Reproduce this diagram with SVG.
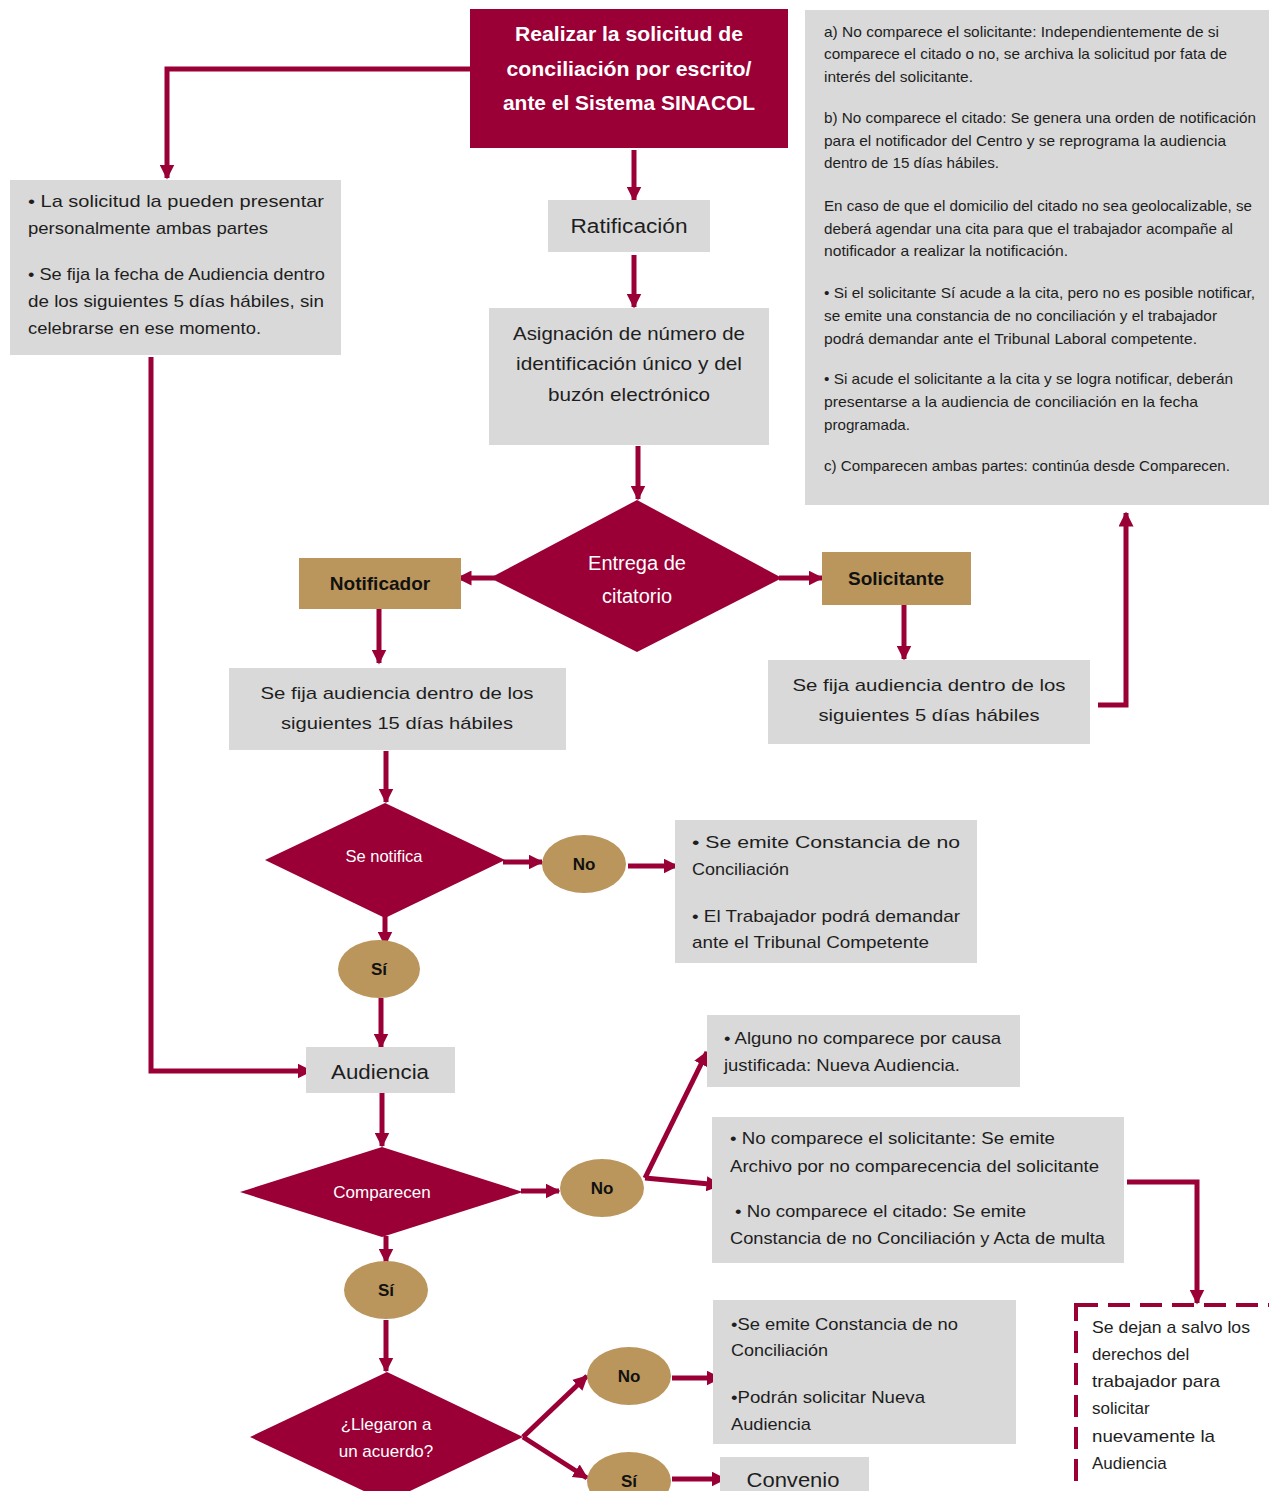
<svg xmlns="http://www.w3.org/2000/svg" width="1269" height="1491" viewBox="0 0 1269 1491">
<style>
.mar{fill:#9a0036}
.tan{fill:#bb965c}
.gr{fill:#d9d9d9}
text{font-family:"Liberation Sans",Arial,sans-serif;fill:#1e1e1e}
.w{fill:#ffffff}
.b{font-weight:bold}
.c{text-anchor:middle}
.s14{font-size:14.5px}
.s16{font-size:16.5px}
.s17{font-size:17px}
.s19{font-size:19px}
.s20{font-size:20px}
.con{fill:none;stroke:#9a0036;stroke-width:5}
</style>
<defs>
<marker id="ah" viewBox="0 0 10 10" refX="9" refY="5" markerWidth="15" markerHeight="15" markerUnits="userSpaceOnUse" orient="auto"><path d="M0,0 L10,5 L0,10 z" fill="#9a0036"/></marker>
</defs>
<rect width="1269" height="1491" fill="#ffffff"/>

<g id="connectors">
<path class="con" d="M470,69 H167 V178" marker-end="url(#ah)"/>
<path class="con" d="M634,150 V200" marker-end="url(#ah)"/>
<path class="con" d="M634,255 V307" marker-end="url(#ah)"/>
<path class="con" d="M638,446 V499" marker-end="url(#ah)"/>
<path class="con" d="M495,578 H458" marker-end="url(#ah)"/>
<path class="con" d="M779,578 H822" marker-end="url(#ah)"/>
<path class="con" d="M379,609 V663" marker-end="url(#ah)"/>
<path class="con" d="M904,605 V659" marker-end="url(#ah)"/>
<path class="con" d="M1098,705 H1126 V513" marker-end="url(#ah)"/>
<path class="con" d="M386,751 V802" marker-end="url(#ah)"/>
<path class="con" d="M503,862 H542" marker-end="url(#ah)"/>
<path class="con" d="M628,866 H677" marker-end="url(#ah)"/>
<path class="con" d="M385,916 V945" marker-end="url(#ah)"/>
<path class="con" d="M381,998 V1047" marker-end="url(#ah)"/>
<path class="con" d="M151,357 V1071 H311" marker-end="url(#ah)"/>
<path class="con" d="M382,1093 V1146" marker-end="url(#ah)"/>
<path class="con" d="M521,1191 H559" marker-end="url(#ah)"/>
<path class="con" d="M645,1178 L707,1052" marker-end="url(#ah)"/>
<path class="con" d="M645,1178 L720,1185" marker-end="url(#ah)"/>
<path class="con" d="M1127,1182 H1197 V1303" marker-end="url(#ah)"/>
<path class="con" d="M386,1236 V1262" marker-end="url(#ah)"/>
<path class="con" d="M386,1320 V1371" marker-end="url(#ah)"/>
<path class="con" d="M523,1437 L587,1376" marker-end="url(#ah)"/>
<path class="con" d="M523,1437 L587,1478" marker-end="url(#ah)"/>
<path class="con" d="M672,1378 H720" marker-end="url(#ah)"/>
<path class="con" d="M672,1479 H725" marker-end="url(#ah)"/>
</g>

<g id="n-solicitud">
<rect class="mar" x="470" y="9" width="318" height="139"/>
<text class="w b c s20" x="629" y="41" textLength="228" lengthAdjust="spacingAndGlyphs">Realizar la solicitud de</text>
<text class="w b c s20" x="629" y="76" textLength="245" lengthAdjust="spacingAndGlyphs">conciliación por escrito/</text>
<text class="w b c s20" x="629" y="110" textLength="252" lengthAdjust="spacingAndGlyphs">ante el Sistema SINACOL</text>
</g>

<g id="n-notas">
<rect class="gr" x="805" y="10" width="464" height="495"/>
<text class="s14" x="824" y="37" textLength="395" lengthAdjust="spacingAndGlyphs">a) No comparece el solicitante: Independientemente de si</text>
<text class="s14" x="824" y="59" textLength="403" lengthAdjust="spacingAndGlyphs">comparece el citado o no, se archiva la solicitud por fata de</text>
<text class="s14" x="824" y="82" textLength="149" lengthAdjust="spacingAndGlyphs">interés del solicitante.</text>
<text class="s14" x="824" y="123" textLength="432" lengthAdjust="spacingAndGlyphs">b) No comparece el citado: Se genera una orden de notificación</text>
<text class="s14" x="824" y="146" textLength="402" lengthAdjust="spacingAndGlyphs">para el notificador del Centro y se reprograma la audiencia</text>
<text class="s14" x="824" y="168" textLength="175" lengthAdjust="spacingAndGlyphs">dentro de 15 días hábiles.</text>
<text class="s14" x="824" y="211" textLength="428" lengthAdjust="spacingAndGlyphs">En caso de que el domicilio del citado no sea geolocalizable, se</text>
<text class="s14" x="824" y="234" textLength="409" lengthAdjust="spacingAndGlyphs">deberá agendar una cita para que el trabajador acompañe al</text>
<text class="s14" x="824" y="256" textLength="244" lengthAdjust="spacingAndGlyphs">notificador a realizar la notificación.</text>
<text class="s14" x="824" y="298" textLength="431" lengthAdjust="spacingAndGlyphs">• Si el solicitante Sí acude a la cita, pero no es posible notificar,</text>
<text class="s14" x="824" y="321" textLength="393" lengthAdjust="spacingAndGlyphs">se emite una constancia de no conciliación y el trabajador</text>
<text class="s14" x="824" y="344" textLength="373" lengthAdjust="spacingAndGlyphs">podrá demandar ante el Tribunal Laboral competente.</text>
<text class="s14" x="824" y="384" textLength="409" lengthAdjust="spacingAndGlyphs">• Si acude el solicitante a la cita y se logra notificar, deberán</text>
<text class="s14" x="824" y="407" textLength="374" lengthAdjust="spacingAndGlyphs">presentarse a la audiencia de conciliación en la fecha</text>
<text class="s14" x="824" y="430" textLength="86" lengthAdjust="spacingAndGlyphs">programada.</text>
<text class="s14" x="824" y="471" textLength="406" lengthAdjust="spacingAndGlyphs">c) Comparecen ambas partes: continúa desde Comparecen.</text>
</g>

<g id="n-presentar">
<rect class="gr" x="10" y="180" width="331" height="175"/>
<text class="s17" x="28" y="207" textLength="296" lengthAdjust="spacingAndGlyphs">•  La  solicitud  la  pueden  presentar</text>
<text class="s17" x="28" y="234" textLength="240" lengthAdjust="spacingAndGlyphs">personalmente ambas partes</text>
<text class="s17" x="28" y="280" textLength="297" lengthAdjust="spacingAndGlyphs">• Se fija la fecha de Audiencia dentro</text>
<text class="s17" x="28" y="307" textLength="296" lengthAdjust="spacingAndGlyphs">de los siguientes 5 días hábiles, sin</text>
<text class="s17" x="28" y="334" textLength="233" lengthAdjust="spacingAndGlyphs">celebrarse en ese momento.</text>
</g>

<g id="n-ratificacion">
<rect class="gr" x="548" y="200" width="162" height="52"/>
<text class="c s20" x="629" y="233" textLength="117" lengthAdjust="spacingAndGlyphs">Ratificación</text>
</g>

<g id="n-asignacion">
<rect class="gr" x="489" y="308" width="280" height="137"/>
<text class="c s19" x="629" y="340" textLength="232" lengthAdjust="spacingAndGlyphs">Asignación de número de</text>
<text class="c s19" x="629" y="370" textLength="226" lengthAdjust="spacingAndGlyphs">identificación único y del</text>
<text class="c s19" x="629" y="401" textLength="162" lengthAdjust="spacingAndGlyphs">buzón electrónico</text>
</g>

<g id="n-entrega">
<polygon class="mar" points="637,500 782,578 637,652 490,578"/>
<text class="w c s20" x="637" y="570">Entrega de</text>
<text class="w c s20" x="637" y="603">citatorio</text>
</g>

<g id="n-notificador">
<rect class="tan" x="299" y="558" width="162" height="51"/>
<text class="b c s19" x="380" y="590" style="fill:#111">Notificador</text>
</g>

<g id="n-solicitante">
<rect class="tan" x="822" y="552" width="149" height="53"/>
<text class="b c s19" x="896" y="585" style="fill:#111">Solicitante</text>
</g>

<g id="n-fija15">
<rect class="gr" x="229" y="668" width="337" height="82"/>
<text class="c s17" x="397" y="699" textLength="273" lengthAdjust="spacingAndGlyphs">Se fija audiencia dentro de los</text>
<text class="c s17" x="397" y="729" textLength="232" lengthAdjust="spacingAndGlyphs">siguientes 15 días hábiles</text>
</g>

<g id="n-fija5">
<rect class="gr" x="768" y="660" width="322" height="84"/>
<text class="c s17" x="929" y="691" textLength="273" lengthAdjust="spacingAndGlyphs">Se fija audiencia dentro de los</text>
<text class="c s17" x="929" y="721" textLength="221" lengthAdjust="spacingAndGlyphs">siguientes 5 días hábiles</text>
</g>

<g id="n-senotifica">
<polygon class="mar" points="385,803 505,860 385,918 265,860"/>
<text class="w c s16" x="384" y="862">Se notifica</text>
</g>

<g id="n-no1">
<ellipse class="tan" cx="584" cy="864" rx="42" ry="29"/>
<text class="b c s17" x="584" y="870" style="fill:#111">No</text>
</g>

<g id="n-constancia1">
<rect class="gr" x="675" y="820" width="302" height="143"/>
<text class="s17" x="692" y="848" textLength="268" lengthAdjust="spacingAndGlyphs">•  Se  emite  Constancia  de  no</text>
<text class="s17" x="692" y="875" textLength="97" lengthAdjust="spacingAndGlyphs">Conciliación</text>
<text class="s17" x="692" y="922" textLength="268" lengthAdjust="spacingAndGlyphs">• El Trabajador podrá demandar</text>
<text class="s17" x="692" y="948" textLength="237" lengthAdjust="spacingAndGlyphs">ante el Tribunal Competente</text>
</g>

<g id="n-si1">
<ellipse class="tan" cx="379" cy="969" rx="41" ry="29"/>
<text class="b c s17" x="379" y="975" style="fill:#111">Sí</text>
</g>

<g id="n-audiencia">
<rect class="gr" x="306" y="1047" width="149" height="46"/>
<text class="c s20" x="380" y="1079" textLength="98" lengthAdjust="spacingAndGlyphs">Audiencia</text>
</g>

<g id="n-comparecen">
<polygon class="mar" points="382,1147 523,1192 382,1237 240,1192"/>
<text class="w c s17" x="382" y="1198">Comparecen</text>
</g>

<g id="n-no2">
<ellipse class="tan" cx="602" cy="1188" rx="42" ry="29"/>
<text class="b c s17" x="602" y="1194" style="fill:#111">No</text>
</g>

<g id="n-alguno">
<rect class="gr" x="707" y="1015" width="313" height="72"/>
<text class="s17" x="724" y="1044" textLength="277" lengthAdjust="spacingAndGlyphs">• Alguno no comparece por causa</text>
<text class="s17" x="724" y="1071" textLength="236" lengthAdjust="spacingAndGlyphs">justificada: Nueva Audiencia.</text>
</g>

<g id="n-nocomparece">
<rect class="gr" x="712" y="1117" width="412" height="146"/>
<text class="s17" x="730" y="1144" textLength="325" lengthAdjust="spacingAndGlyphs">• No comparece el solicitante: Se emite</text>
<text class="s17" x="730" y="1172" textLength="369" lengthAdjust="spacingAndGlyphs">Archivo por no comparecencia del solicitante</text>
<text class="s17" x="735" y="1217" textLength="291" lengthAdjust="spacingAndGlyphs">• No comparece el citado: Se emite</text>
<text class="s17" x="730" y="1244" textLength="375" lengthAdjust="spacingAndGlyphs">Constancia de no Conciliación y Acta de multa</text>
</g>

<g id="n-salvo">
<rect x="1076" y="1305" width="200" height="192" fill="#ffffff" stroke="#9a0036" stroke-width="4" stroke-dasharray="22 10"/>
<text class="s17" x="1092" y="1333" textLength="158" lengthAdjust="spacingAndGlyphs">Se dejan a salvo los</text>
<text class="s17" x="1092" y="1360">derechos del</text>
<text class="s17" x="1092" y="1387" textLength="128" lengthAdjust="spacingAndGlyphs">trabajador para</text>
<text class="s17" x="1092" y="1414">solicitar</text>
<text class="s17" x="1092" y="1442" textLength="123" lengthAdjust="spacingAndGlyphs">nuevamente la</text>
<text class="s17" x="1092" y="1469">Audiencia</text>
</g>

<g id="n-si2">
<ellipse class="tan" cx="386" cy="1290" rx="42" ry="29"/>
<text class="b c s17" x="386" y="1296" style="fill:#111">Sí</text>
</g>

<g id="n-acuerdo">
<polygon class="mar" points="387,1372 523,1437 387,1502 250,1437"/>
<text class="w c s17" x="386" y="1430">¿Llegaron a</text>
<text class="w c s17" x="386" y="1457">un acuerdo?</text>
</g>

<g id="n-no3">
<ellipse class="tan" cx="629" cy="1376" rx="42" ry="29"/>
<text class="b c s17" x="629" y="1382" style="fill:#111">No</text>
</g>

<g id="n-constancia2">
<rect class="gr" x="713" y="1300" width="303" height="144"/>
<text class="s17" x="731" y="1330" textLength="227" lengthAdjust="spacingAndGlyphs">•Se emite Constancia de no</text>
<text class="s17" x="731" y="1356" textLength="97" lengthAdjust="spacingAndGlyphs">Conciliación</text>
<text class="s17" x="731" y="1403" textLength="194" lengthAdjust="spacingAndGlyphs">•Podrán solicitar Nueva</text>
<text class="s17" x="731" y="1430" textLength="80" lengthAdjust="spacingAndGlyphs">Audiencia</text>
</g>

<g id="n-si3">
<ellipse class="tan" cx="629" cy="1481" rx="42" ry="29"/>
<text class="b c s17" x="629" y="1487" style="fill:#111">Sí</text>
</g>

<g id="n-convenio">
<rect class="gr" x="720" y="1457" width="149" height="40"/>
<text class="c s20" x="793" y="1487" textLength="93" lengthAdjust="spacingAndGlyphs">Convenio</text>
</g>
</svg>
